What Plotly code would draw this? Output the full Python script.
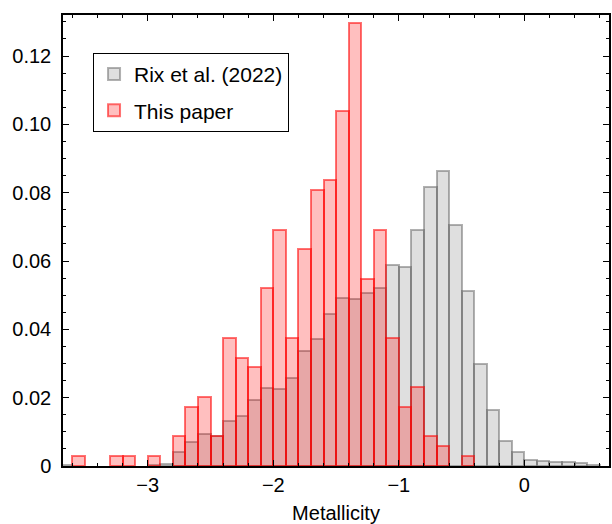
import plotly.graph_objects as go

# bin centres (bin width 0.1)
bin_width = 0.1
rix_centers = [-3.65, -2.95, -2.85, -2.75, -2.65, -2.55, -2.45, -2.35, -2.25, -2.15, -2.05,
               -1.95, -1.85, -1.75, -1.65, -1.55, -1.45, -1.35, -1.25, -1.15, -1.05,
               -0.95, -0.85, -0.75, -0.65, -0.55, -0.45, -0.35, -0.25, -0.15, -0.05,
               0.05, 0.15, 0.25, 0.35, 0.45, 0.55]
rix_density = [0.0003, 0.0004, 0.0007, 0.0041, 0.0069, 0.0093, 0.0088, 0.0132, 0.0146, 0.0192, 0.0228,
               0.0225, 0.0258, 0.0336, 0.0371, 0.0446, 0.0493, 0.0488, 0.0505, 0.0520, 0.0587,
               0.0583, 0.0690, 0.0817, 0.0864, 0.0705, 0.0512, 0.0298, 0.0163, 0.0072, 0.0041,
               0.0019, 0.0014, 0.0011, 0.0011, 0.0008, 0.0003]

paper_centers = [-3.55, -3.25, -3.15, -2.95, -2.75, -2.65, -2.55, -2.45, -2.35, -2.25, -2.15,
                 -2.05, -1.95, -1.85, -1.75, -1.65, -1.55, -1.45, -1.35, -1.25, -1.15,
                 -1.05, -0.95, -0.85, -0.75, -0.65, -0.45]
paper_density = [0.0029, 0.0029, 0.0029, 0.0029, 0.0088, 0.0174, 0.0202, 0.0088, 0.0375, 0.0317, 0.0289,
                 0.0520, 0.0692, 0.0375, 0.0634, 0.0808, 0.0836, 0.1040, 0.1298, 0.0548, 0.0692,
                 0.0375, 0.0174, 0.0231, 0.0088, 0.0058, 0.0029]

x_tickvals = [-3, -2, -1, 0]
x_ticktext = ["−3", "−2", "−1", "0"]
y_tickvals = [0, 0.02, 0.04, 0.06, 0.08, 0.10, 0.12]
y_ticktext = ["0", "0.02", "0.04", "0.06", "0.08", "0.10", "0.12"]

FONT = "Liberation Sans"

fig = go.Figure()
fig.add_trace(go.Bar(
    x=rix_centers, y=rix_density, width=bin_width,
    name="Rix et al. (2022)", legendgroup="rix",
    marker=dict(color="rgba(128,128,128,0.25)",
                line=dict(color="rgba(100,100,100,0.5)", width=2)),
))
fig.add_trace(go.Bar(
    x=paper_centers, y=paper_density, width=bin_width,
    name="This paper", legendgroup="paper",
    marker=dict(color="rgba(255,0,0,0.25)",
                line=dict(color="rgba(255,0,0,0.55)", width=2)),
))

axis_common = dict(
    showline=True, linecolor="black", linewidth=1.5, mirror="allticks",
    ticks="inside", ticklen=6, tickwidth=1.3, tickcolor="black",
    showgrid=False, zeroline=False, automargin=False,
    tickfont=dict(family=FONT, size=20, color="black"),
)

fig.update_layout(
    width=612, height=524,
    barmode="overlay", bargap=0,
    plot_bgcolor="white", paper_bgcolor="white",
    margin=dict(l=63, r=3, t=15, b=58),
    font=dict(family=FONT, size=20, color="black"),
    xaxis=dict(range=[-3.675, 0.674], tickvals=x_tickvals, ticktext=x_ticktext,
               minor=dict(ticks="inside", ticklen=3.5, dtick=0.2, tick0=0, tickcolor="black", tickwidth=1),
               title=dict(text="Metallicity", font=dict(family=FONT, size=20), standoff=12),
               **axis_common),
    yaxis=dict(range=[0, 0.132], tickvals=y_tickvals, ticktext=y_ticktext,
               minor=dict(ticks="inside", ticklen=3.5, dtick=0.005, tick0=0, tickcolor="black", tickwidth=1),
               ticklabelstandoff=6,
               **axis_common),
    showlegend=True,
    legend=dict(x=0.055, y=0.916, xanchor="left", yanchor="top",
                bgcolor="white", bordercolor="black", borderwidth=1,
                font=dict(family=FONT, size=21, color="black"),
                traceorder="grouped", tracegroupgap=6),
)

fig.write_html("out.html", config={"displayModeBar": False},
               post_script="document.body.style.margin='0';")
